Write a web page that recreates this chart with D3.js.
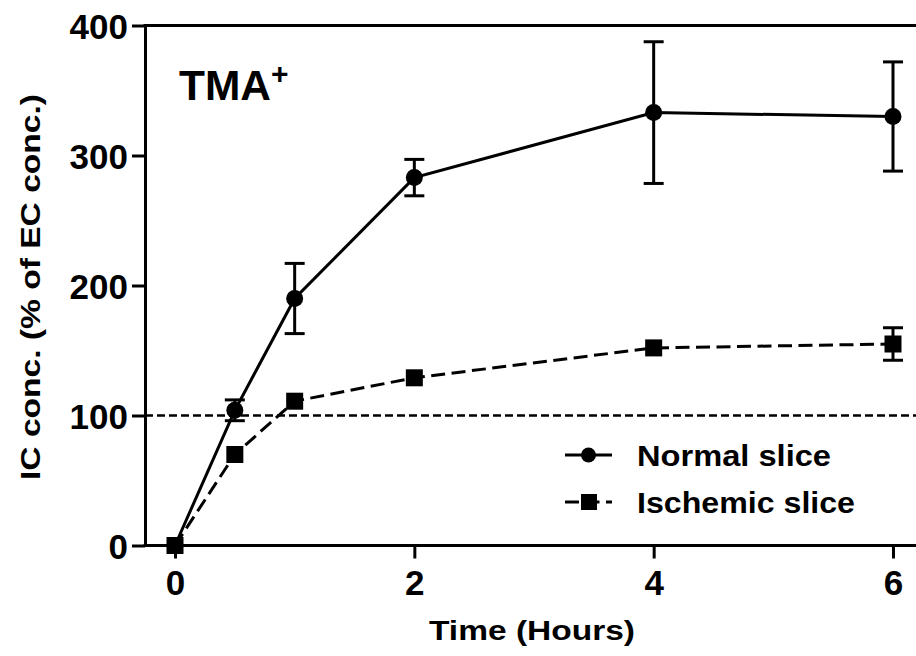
<!DOCTYPE html>
<html>
<head>
<meta charset="utf-8">
<script src="https://cdn.jsdelivr.net/npm/d3@7"></script>
<style>
  html, body { margin: 0; padding: 0; background: #fff; }
  svg { display: block; }
  text { font-family: "Liberation Sans", Arial, sans-serif; font-weight: bold; fill: #000; }
</style>
</head>
<body>
<svg id="chart" width="916" height="656"></svg>
<script>
// ---- data ----
const times = [0, 0.5, 1, 2, 4, 6];
const normalMean = [0, 104, 190, 283, 333, 330];
const normalErr = [0, 8, 27, 14, 54.5, 42];
const ischemicMean = [0, 70, 111, 129, 152, 155];
const ischemicErr = [0, 0, 0, 0, 0, 12.5];
const xTicks = [0, 2, 4, 6];
const yTicks = [0, 100, 200, 300, 400];
const seriesNames = ["Normal slice", "Ischemic slice"];
const referenceLevel = 100;

// ---- layout ----
const svg = d3.select("#chart");
const W = 916;
const x = d3.scaleLinear().domain([0, 6]).range([175, 893]);
const y = d3.scaleLinear().domain([0, 400]).range([545.5, 25.5]);
const axisX0 = 145;
const fmt = d3.format("d");

// y axis
const yAxis = svg.append("g").attr("transform", `translate(${axisX0},0)`)
  .call(d3.axisLeft(y).tickValues(yTicks).tickFormat(fmt).tickSize(13).tickSizeOuter(0).tickPadding(4));
yAxis.select(".domain").attr("stroke", "#000").attr("stroke-width", 3);
yAxis.selectAll(".tick line").attr("stroke", "#000").attr("stroke-width", 3);
yAxis.selectAll(".tick text").attr("font-size", 35).attr("font-family", "Liberation Sans, Arial, sans-serif")
  .attr("font-weight", "bold").attr("fill", "#000").attr("dy", null).attr("y", 12.5).attr("x", -17);

// x axis
const xAxis = svg.append("g").attr("transform", `translate(0,${y(0)})`)
  .call(d3.axisBottom(x).tickValues(xTicks).tickFormat(fmt).tickSize(13).tickSizeOuter(0).tickPadding(4));
xAxis.select(".domain").remove();
xAxis.selectAll(".tick line").attr("stroke", "#000").attr("stroke-width", 3);
xAxis.selectAll(".tick text").attr("font-size", 35).attr("font-family", "Liberation Sans, Arial, sans-serif")
  .attr("font-weight", "bold").attr("fill", "#000").attr("dy", null).attr("y", 49.5);
svg.append("line").attr("x1", axisX0 - 1.5).attr("x2", W).attr("y1", y(0)).attr("y2", y(0))
  .attr("stroke", "#000").attr("stroke-width", 3);
// top frame
svg.append("line").attr("x1", axisX0 - 1.5).attr("x2", W).attr("y1", y(400)).attr("y2", y(400))
  .attr("stroke", "#000").attr("stroke-width", 3);

// reference line
svg.append("line").attr("x1", axisX0).attr("x2", W).attr("y1", y(referenceLevel)).attr("y2", y(referenceLevel))
  .attr("stroke", "#000").attr("stroke-width", 2.6).attr("stroke-dasharray", "8,4");

// series
const series = [
  { name: seriesNames[0], mean: normalMean, err: normalErr, dash: null, shape: "circle" },
  { name: seriesNames[1], mean: ischemicMean, err: ischemicErr, dash: "14,6.5", shape: "square" }
];
const capW = 10;
series.forEach(s => {
  const g = svg.append("g");
  times.forEach((t, i) => {
    if (s.err[i] <= 0) return;
    const cx = x(t), yt = y(s.mean[i] + s.err[i]), yb = y(s.mean[i] - s.err[i]);
    g.append("line").attr("x1", cx).attr("x2", cx).attr("y1", yt).attr("y2", yb).attr("stroke", "#000").attr("stroke-width", 3);
    g.append("line").attr("x1", cx - capW).attr("x2", cx + capW).attr("y1", yt).attr("y2", yt).attr("stroke", "#000").attr("stroke-width", 3);
    g.append("line").attr("x1", cx - capW).attr("x2", cx + capW).attr("y1", yb).attr("y2", yb).attr("stroke", "#000").attr("stroke-width", 3);
  });
  const line = d3.line().x((d, i) => x(times[i])).y(d => y(d));
  g.append("path").datum(s.mean).attr("d", line).attr("fill", "none").attr("stroke", "#000")
    .attr("stroke-width", 3).attr("stroke-dasharray", s.dash);
  times.forEach((t, i) => {
    if (s.shape === "circle") {
      g.append("circle").attr("cx", x(t)).attr("cy", y(s.mean[i])).attr("r", 8.5).attr("fill", "#000");
    } else {
      g.append("rect").attr("x", x(t) - 8.5).attr("y", y(s.mean[i]) - 8.5).attr("width", 17).attr("height", 17).attr("fill", "#000");
    }
  });
});

// legend
const legY = [455, 502];
series.forEach((s, i) => {
  const g = svg.append("g");
  g.append("line").attr("x1", 565).attr("x2", 612).attr("y1", legY[i]).attr("y2", legY[i])
    .attr("stroke", "#000").attr("stroke-width", 3).attr("stroke-dasharray", s.dash);
  if (s.shape === "circle") g.append("circle").attr("cx", 588.5).attr("cy", legY[i]).attr("r", 7.5).attr("fill", "#000");
  else g.append("rect").attr("x", 581).attr("y", legY[i] - 8).attr("width", 16).attr("height", 16).attr("fill", "#000");
  g.append("text").attr("x", 637).attr("y", legY[i] + 10.5).attr("font-size", 29)
    .attr("textLength", i === 0 ? 194 : 218).attr("lengthAdjust", "spacingAndGlyphs").text(s.name);
});

// TMA+ label
svg.append("text").attr("x", 179).attr("y", 100).attr("font-size", 43)
  .attr("textLength", 92).attr("lengthAdjust", "spacingAndGlyphs").text("TMA");
svg.append("text").attr("x", 271).attr("y", 84).attr("font-size", 30).text("+");

// axis titles
svg.append("text").attr("x", 532).attr("y", 640).attr("text-anchor", "middle").attr("font-size", 28)
  .attr("textLength", 206).attr("lengthAdjust", "spacingAndGlyphs").text("Time (Hours)");
svg.append("text").attr("transform", "translate(40,287) rotate(-90)").attr("text-anchor", "middle")
  .attr("font-size", 28).attr("textLength", 386).attr("lengthAdjust", "spacingAndGlyphs")
  .text("IC conc. (% of EC conc.)");
</script>
</body>
</html>
